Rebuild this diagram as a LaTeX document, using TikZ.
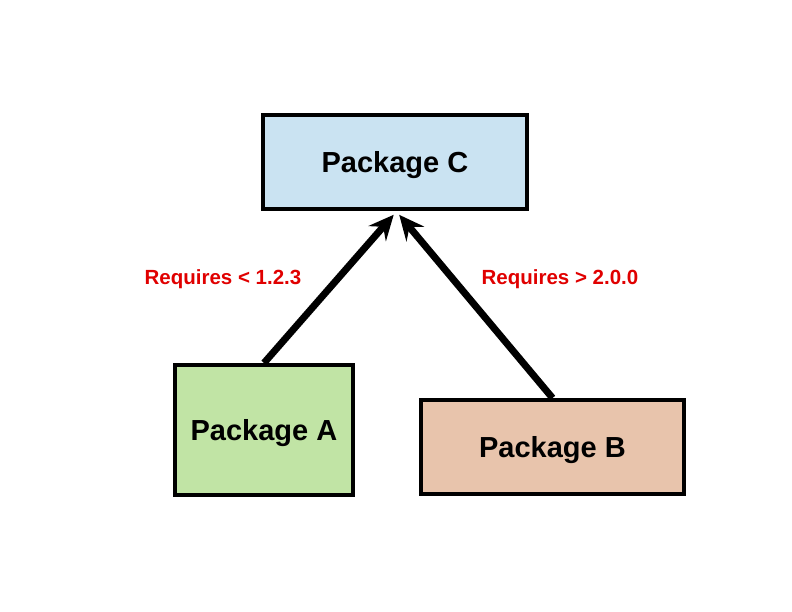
\documentclass[tikz,border=0pt]{standalone}
\usepackage{fontspec}
\setmainfont{Liberation Sans}
\usepackage{tikz}
\usetikzlibrary{arrows.meta}
\definecolor{pkgblue}{RGB}{202, 227, 242}
\definecolor{pkggreen}{RGB}{193, 228, 165}
\definecolor{pkgpeach}{RGB}{232, 196, 172}
\definecolor{reqred}{RGB}{224, 0, 0}

\begin{document}
\begin{tikzpicture}[x=1bp, y=-1bp,
    pkg/.style={draw=black, line width=4bp, inner sep=0pt,
      text height=21bp, text depth=0pt,
      font=\fontsize{29bp}{34bp}\selectfont\bfseries},
    req/.style={text=reqred, text height=14.7bp, text depth=0pt,
      font=\fontsize{20.5bp}{24bp}\selectfont\bfseries},
    dep/.style={line width=7bp, shorten >=5bp,
      -{Stealth[length=25bp, width=23bp, inset=9bp]}}]
    \useasboundingbox (0,0) rectangle (792,612);

    % Packages
    \node[pkg, fill=pkgblue, minimum width=264bp, minimum height=94bp]
          (C) at (395,162) {Package C};
    \node[pkg, fill=pkggreen, minimum width=178bp, minimum height=130bp]
          (A) at (264,430) {Package A};
    \node[pkg, fill=pkgpeach, minimum width=263bp, minimum height=94bp]
          (B) at (552.5,447) {Package B};

    % Dependencies
    \draw[dep] (A.north) -- ([xshift=2bp]C.south);
    \draw[dep] (B.north) -- ([xshift=1bp]C.south);

    % Version constraints
    \node[req] (reqA) at (223,277) {Requires < 1.2.3};
    \node[req] (reqB) at (560,277) {Requires > 2.0.0};
\end{tikzpicture}
\end{document}
